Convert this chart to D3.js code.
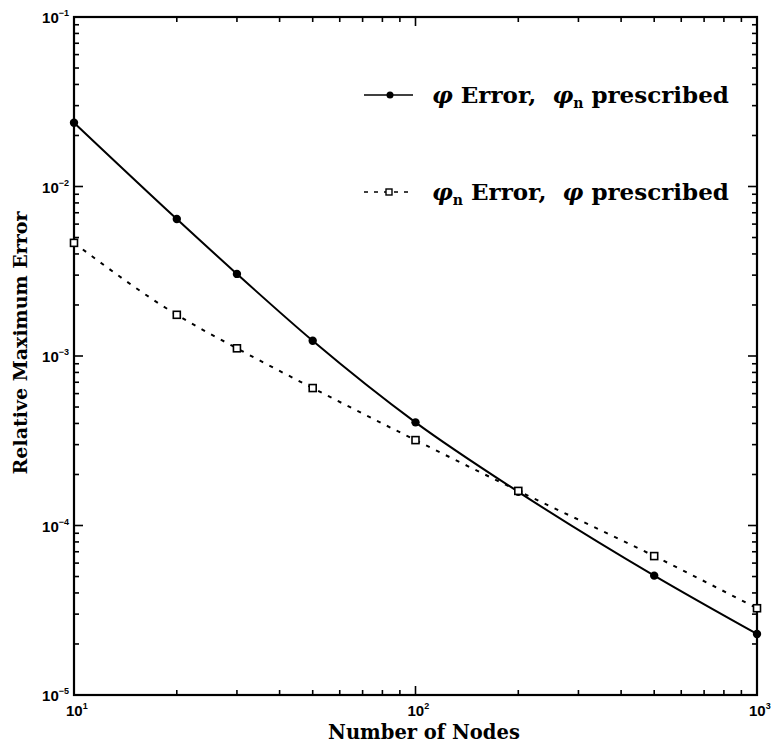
<!DOCTYPE html>
<html><head><meta charset="utf-8">
<script src="https://cdn.jsdelivr.net/npm/d3@7/dist/d3.min.js"></script>
<style>body{margin:0;background:#fff}svg{display:block}</style>
</head><body>
<svg id="c" width="773" height="745"></svg>
<script>
const nodes = [10, 20, 30, 50, 100, 200, 500, 1000];
const phiError = [2.38e-2, 6.43e-3, 3.05e-3, 1.23e-3, 4.06e-4, 1.58e-4, 5.06e-5, 2.29e-5];
const phinError = [4.65e-3, 1.75e-3, 1.11e-3, 6.47e-4, 3.19e-4, 1.6e-4, 6.6e-5, 3.25e-5];
const xTickExp = [1, 2, 3];
const yTickExp = [-1, -2, -3, -4, -5];
const legendLabels = [
  [["φ", "it"], [" Error,  ", ""], ["φ", "it"], ["n", "sub"], [" prescribed", ""]],
  [["φ", "it"], ["n", "sub"], [" Error,  ", ""], ["φ", "it"], [" prescribed", ""]]
];
const xTitle = "Number of Nodes";
const yTitle = "Relative Maximum Error";

const svg = d3.select("#c");
const L = 74, R = 757, T = 17, B = 695;
const x = d3.scaleLog().domain([10, 1000]).range([L, R]);
const y = d3.scaleLog().domain([1e-5, 1e-1]).range([B, T]);
const serif = "'DejaVu Serif', serif";
const sans = "'Liberation Sans', Arial, sans-serif";

const minorX = [], minorY = [];
for (let e = 1; e < 3; e++) for (let m = 2; m <= 9; m++) minorX.push(m * Math.pow(10, e));
for (let e = -5; e < -1; e++) for (let m = 2; m <= 9; m++) minorY.push(m * Math.pow(10, e));

const gT = svg.append("g").attr("stroke", "#000").attr("stroke-width", 1.6);
const majX = xTickExp.map(e => Math.pow(10, e)), majY = yTickExp.map(e => Math.pow(10, e));
function xt(vals, len) {
  vals.forEach(v => {
    gT.append("line").attr("x1", x(v)).attr("x2", x(v)).attr("y1", B).attr("y2", B - len);
    gT.append("line").attr("x1", x(v)).attr("x2", x(v)).attr("y1", T).attr("y2", T + len);
  });
}
function yt(vals, len) {
  vals.forEach(v => {
    gT.append("line").attr("y1", y(v)).attr("y2", y(v)).attr("x1", L).attr("x2", L + len);
    gT.append("line").attr("y1", y(v)).attr("y2", y(v)).attr("x1", R).attr("x2", R - len);
  });
}
xt(minorX, 5); xt(majX, 9); yt(minorY, 5); yt(majY, 9);

svg.append("rect").attr("x", L).attr("y", T).attr("width", R - L).attr("height", B - T)
  .attr("fill", "none").attr("stroke", "#000").attr("stroke-width", 2.2);

// tick labels
yTickExp.forEach(e => {
  const t = svg.append("text").attr("x", L - 5).attr("y", y(Math.pow(10, e)) + 6)
    .attr("text-anchor", "end").attr("font-family", sans).attr("font-weight", "bold").attr("font-size", 15);
  t.append("tspan").text("10");
  t.append("tspan").attr("dy", -7).attr("font-size", 9).text("−" + (-e));
});
xTickExp.forEach(e => {
  const t = svg.append("text").attr("x", x(Math.pow(10, e)) - 8).attr("y", B + 21)
    .attr("text-anchor", "start").attr("font-family", sans).attr("font-weight", "bold").attr("font-size", 15);
  t.append("tspan").text("10");
  t.append("tspan").attr("dy", -7).attr("font-size", 9).text(e);
});

// titles
svg.append("text").attr("x", 424).attr("y", 739).attr("text-anchor", "middle")
  .attr("font-family", serif).attr("font-weight", "bold").attr("font-size", 19.5).text(xTitle);
svg.append("text").attr("transform", `translate(27,343) rotate(-90)`).attr("text-anchor", "middle")
  .attr("font-family", serif).attr("font-weight", "bold").attr("font-size", 19).text(yTitle);

// lines
const line = d3.line().x(d => x(d[0])).y(d => y(d[1])).curve(d3.curveMonotoneX);
const s1 = nodes.map((n, i) => [n, phiError[i]]);
const s2 = nodes.map((n, i) => [n, phinError[i]]);
svg.append("path").attr("d", line(s1)).attr("fill", "none").attr("stroke", "#000").attr("stroke-width", 2);
svg.append("path").attr("d", line(s2)).attr("fill", "none").attr("stroke", "#000").attr("stroke-width", 2)
  .attr("stroke-dasharray", "4,7");

svg.append("g").selectAll("circle").data(s1).join("circle")
  .attr("cx", d => x(d[0])).attr("cy", d => y(d[1])).attr("r", 4.2).attr("fill", "#000");
svg.append("g").selectAll("rect").data(s2).join("rect")
  .attr("x", d => x(d[0]) - 3.5).attr("y", d => y(d[1]) - 3.5).attr("width", 7).attr("height", 7)
  .attr("fill", "#fff").attr("stroke", "#000").attr("stroke-width", 1.6);

// legend
const ly = [95, 192];
svg.append("line").attr("x1", 364).attr("x2", 413).attr("y1", ly[0]).attr("y2", ly[0]).attr("stroke", "#000").attr("stroke-width", 1.6);
svg.append("circle").attr("cx", 390).attr("cy", ly[0]).attr("r", 3.5).attr("fill", "#000");
svg.append("line").attr("x1", 364).attr("x2", 413).attr("y1", ly[1]).attr("y2", ly[1]).attr("stroke", "#000").attr("stroke-width", 1.6).attr("stroke-dasharray", "4,6");
svg.append("rect").attr("x", 386).attr("y", ly[1] - 3).attr("width", 6).attr("height", 6).attr("fill", "#fff").attr("stroke", "#000").attr("stroke-width", 1.4);

legendLabels.forEach((parts, i) => {
  const t = svg.append("text").attr("x", 432).attr("y", ly[i] + 8)
    .attr("font-family", serif).attr("font-weight", "bold").attr("font-size", 23)
    .attr("xml:space", "preserve").style("white-space", "pre");
  let sub = false;
  parts.forEach(([s, k]) => {
    const ts = t.append("tspan").text(s);
    if (k === "it") ts.attr("font-style", "italic");
    if (k === "sub") { ts.attr("dy", 5).attr("font-size", 14); sub = true; }
    else if (sub) { ts.attr("dy", -5); sub = false; }
  });
});
</script>
</body></html>
